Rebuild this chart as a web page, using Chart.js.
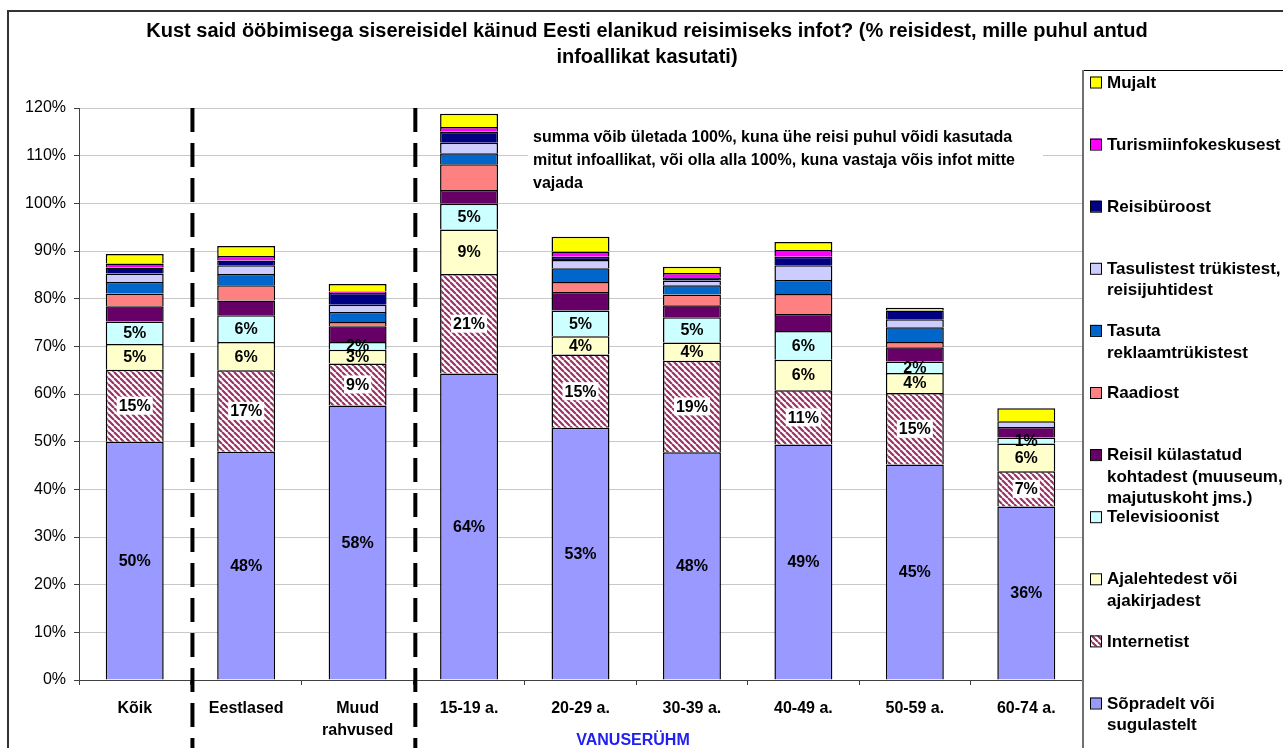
<!DOCTYPE html>
<html>
<head>
<meta charset="utf-8">
<script src="https://cdn.jsdelivr.net/npm/chart.js@4.4.1/dist/chart.umd.min.js"></script>
<style>
  html, body { margin: 0; padding: 0; background: #fff; }
  #wrap { width: 1283px; height: 748px; }
</style>
</head>
<body>
<div id="wrap"><canvas id="infoChart" width="1283" height="748"></canvas></div>
<script>
// categories along the x axis
const categories = [["Kõik"], ["Eestlased"], ["Muud", "rahvused"], ["15-19 a."], ["20-29 a."],
    ["30-39 a."], ["40-49 a."], ["50-59 a."], ["60-74 a."]];

// series, bottom of the stack first (values in %)
const sopradelt   = [50.0, 47.9, 57.6, 64.3, 52.9, 47.8, 49.4, 45.2, 36.4];
const internetist = [15.1, 17.1, 8.8, 20.9, 15.4, 19.2, 11.4, 15.0, 7.4];
const ajalehed    = [5.4, 5.9, 2.9, 9.3, 3.8, 3.8, 6.4, 4.2, 5.8];
const televisioon = [4.7, 5.6, 1.6, 5.4, 5.4, 5.3, 6.0, 2.4, 1.3];
const reisil      = [3.2, 3.1, 3.3, 2.9, 3.9, 2.5, 3.6, 3.0, 2.2];
const raadio      = [2.7, 3.2, 0.9, 5.4, 2.1, 2.3, 4.2, 1.1, 0];
const tasuta      = [2.4, 2.4, 2.1, 2.3, 2.9, 1.9, 2.9, 3.1, 0];
const tasulistest = [1.8, 1.8, 1.5, 2.2, 1.7, 1.0, 3.1, 1.7, 1.2];
const reisibyroo  = [1.25, 1.0, 2.5, 2.3, 0.7, 0.7, 1.8, 1.8, 0];
const turismiinfo = [0.85, 0.95, 0.3, 1.0, 1.1, 0.9, 1.4, 0, 0];
const mujalt      = [1.95, 2.1, 1.6, 2.8, 3.1, 1.3, 1.7, 0.6, 2.7];

const seriesNames = [
    ["Sõpradelt või", "sugulastelt"],
    ["Internetist"],
    ["Ajalehtedest või", "ajakirjadest"],
    ["Televisioonist"],
    ["Reisil külastatud", "kohtadest (muuseum,", "majutuskoht jms.)"],
    ["Raadiost"],
    ["Tasuta", "reklaamtrükistest"],
    ["Tasulistest trükistest,", "reisijuhtidest"],
    ["Reisibüroost"],
    ["Turismiinfokeskusest"],
    ["Mujalt"],
];
const seriesValues = [sopradelt, internetist, ajalehed, televisioon, reisil, raadio,
    tasuta, tasulistest, reisibyroo, turismiinfo, mujalt];

const yTicks = [0, 10, 20, 30, 40, 50, 60, 70, 80, 90, 100, 110, 120];

const titleLines = ["Kust said ööbimisega sisereisidel käinud Eesti elanikud reisimiseks infot? (% reisidest, mille puhul antud",
    "infoallikat kasutati)"];
const noteLines = ["summa võib ületada 100%, kuna ühe reisi puhul võidi kasutada",
    "mitut infoallikat, või olla alla 100%, kuna vastaja võis infot mitte",
    "vajada"];
const axisTitle = "VANUSERÜHM";

const labelledSeries = [0, 1, 2, 3];
const separatorsAfter = [0, 2];

const FONT = '"Liberation Sans", Arial, sans-serif';
Chart.defaults.font.family = FONT;
Chart.defaults.color = "#000";

const canvas = document.getElementById("infoChart");
const mainCtx = canvas.getContext("2d");

function makeHatch() {
    const c = document.createElement("canvas");
    c.width = 6;
    c.height = 6;
    const g = c.getContext("2d");
    g.fillStyle = "#fff";
    g.fillRect(0, 0, 6, 6);
    g.strokeStyle = "#993366";
    g.lineWidth = 2.2;
    g.beginPath();
    for (const o of [-6, 0, 6]) {
        g.moveTo(o, 0);
        g.lineTo(o + 6, 6);
    }
    g.stroke();
    return mainCtx.createPattern(c, "repeat");
}

const hatch = makeHatch();
const fills = ["#9999FF", hatch, "#FFFFCC", "#CCFFFF", "#660066", "#FF8080",
    "#0066CC", "#CCCCFF", "#000080", "#FF00FF", "#FFFF00"];

const segmentLabels = {
    id: "segmentLabels",
    afterDatasetsDraw(chart) {
        const ctx = chart.ctx;
        ctx.save();
        ctx.font = "bold 16px " + FONT;
        ctx.textAlign = "center";
        ctx.textBaseline = "middle";
        labelledSeries.forEach(i => {
            const meta = chart.getDatasetMeta(i);
            meta.data.forEach((bar, j) => {
                const v = chart.data.datasets[i].data[j];
                if (!v) return;
                const txt = Math.round(v) + "%";
                const y = (bar.y + bar.base) / 2;
                if (i === 1) {
                    const w = ctx.measureText(txt).width + 4;
                    ctx.fillStyle = "#fff";
                    ctx.fillRect(bar.x - w / 2, y - 9, w, 18);
                }
                ctx.fillStyle = "#000";
                ctx.fillText(txt, bar.x, y + 1);
            });
        });
        ctx.restore();
    },
};

const overlay = {
    id: "overlay",
    beforeDraw(chart) {
        const ctx = chart.ctx;
        ctx.save();
        ctx.fillStyle = "#fff";
        ctx.fillRect(0, 0, chart.width, chart.height);
        ctx.restore();
    },
    afterDraw(chart) {
        const ctx = chart.ctx;
        const x = chart.scales.x;
        const area = chart.chartArea;
        ctx.save();

        // title
        ctx.fillStyle = "#000";
        ctx.font = "bold 20px " + FONT;
        ctx.textAlign = "center";
        ctx.textBaseline = "middle";
        titleLines.forEach((t, i) => ctx.fillText(t, 647, 31 + i * 26));

        // note box
        ctx.fillStyle = "#fff";
        ctx.fillRect(528, 124, 515, 72);
        ctx.fillStyle = "#000";
        ctx.font = "bold 16px " + FONT;
        ctx.textAlign = "left";
        noteLines.forEach((t, i) => ctx.fillText(t, 533, 138 + i * 23));

        // dashed separators
        ctx.strokeStyle = "#000";
        ctx.lineWidth = 4;
        ctx.setLineDash([24, 11]);
        separatorsAfter.forEach(i => {
            const px = (x.getPixelForValue(i) + x.getPixelForValue(i + 1)) / 2 + 2;
            ctx.beginPath();
            ctx.moveTo(px, area.top);
            ctx.lineTo(px, chart.height);
            ctx.stroke();
        });
        ctx.setLineDash([]);

        // axis title
        ctx.fillStyle = "#2020F0";
        ctx.font = "bold 16px " + FONT;
        ctx.textAlign = "center";
        ctx.fillText(axisTitle, 633, 741);

        // legend
        const lx = 1083, ly = 70;
        ctx.fillStyle = "#fff";
        ctx.fillRect(lx, ly, chart.width - lx, chart.height - ly);
        ctx.strokeStyle = "#000";
        ctx.lineWidth = 1;
        ctx.beginPath();
        ctx.moveTo(lx, ly + 0.5);
        ctx.lineTo(chart.width, ly + 0.5);
        ctx.stroke();
        ctx.strokeStyle = "#707070";
        ctx.lineWidth = 2;
        ctx.beginPath();
        ctx.moveTo(lx, ly);
        ctx.lineTo(lx, chart.height);
        ctx.stroke();

        ctx.font = "bold 17px " + FONT;
        ctx.textAlign = "left";
        ctx.lineWidth = 1;
        for (let k = 0; k < seriesNames.length; k++) {
            const idx = seriesNames.length - 1 - k;
            const cy = 82 + k * 62.1;
            ctx.fillStyle = fills[idx];
            ctx.fillRect(1090, cy - 5.5, 11, 11);
            ctx.strokeStyle = "#000";
            ctx.strokeRect(1090.5, cy - 5, 11, 11);
            ctx.fillStyle = "#000";
            seriesNames[idx].forEach((line, n) => ctx.fillText(line, 1107, cy + 1 + n * 21.5));
        }

        // outer frame
        ctx.strokeStyle = "#333";
        ctx.lineWidth = 2;
        ctx.beginPath();
        ctx.moveTo(8, chart.height);
        ctx.lineTo(8, 11);
        ctx.lineTo(chart.width, 11);
        ctx.stroke();

        ctx.restore();
    },
};

new Chart(mainCtx, {
    type: "bar",
    data: {
        labels: categories,
        datasets: seriesValues.map((vals, i) => ({
            label: seriesNames[i].join(" "),
            data: vals,
            backgroundColor: fills[i],
            borderColor: "#000",
            borderWidth: 1.5,
            barPercentage: 0.52,
            categoryPercentage: 1,
        })),
    },
    options: {
        responsive: false,
        animation: false,
        devicePixelRatio: 1,
        layout: { padding: { top: 108, right: 201, bottom: 0, left: 0 } },
        scales: {
            x: {
                stacked: true,
                afterFit: s => { s.height = 68; },
                grid: {
                    drawOnChartArea: false,
                    drawTicks: true,
                    tickLength: 5,
                    tickColor: "#404040",
                },
                border: { color: "#404040", width: 1 },
                ticks: {
                    padding: 12,
                    font: { size: 16, weight: "bold", lineHeight: 1.4 },
                    color: "#000",
                    maxRotation: 0,
                    autoSkip: false,
                },
            },
            y: {
                stacked: true,
                min: 0,
                max: 120,
                afterFit: s => { s.width = 79; },
                afterBuildTicks: s => { s.ticks = yTicks.map(v => ({ value: v })); },
                grid: {
                    color: "#c8c8c8",
                    tickColor: "#404040",
                    tickLength: 5,
                },
                border: { color: "#404040", width: 1 },
                ticks: {
                    padding: 8,
                    font: { size: 16 },
                    color: "#000",
                    callback: v => v + "%",
                },
            },
        },
        plugins: {
            legend: { display: false },
            tooltip: { enabled: false },
            title: { display: false },
        },
    },
    plugins: [overlay, segmentLabels],
});
</script>
</body>
</html>
